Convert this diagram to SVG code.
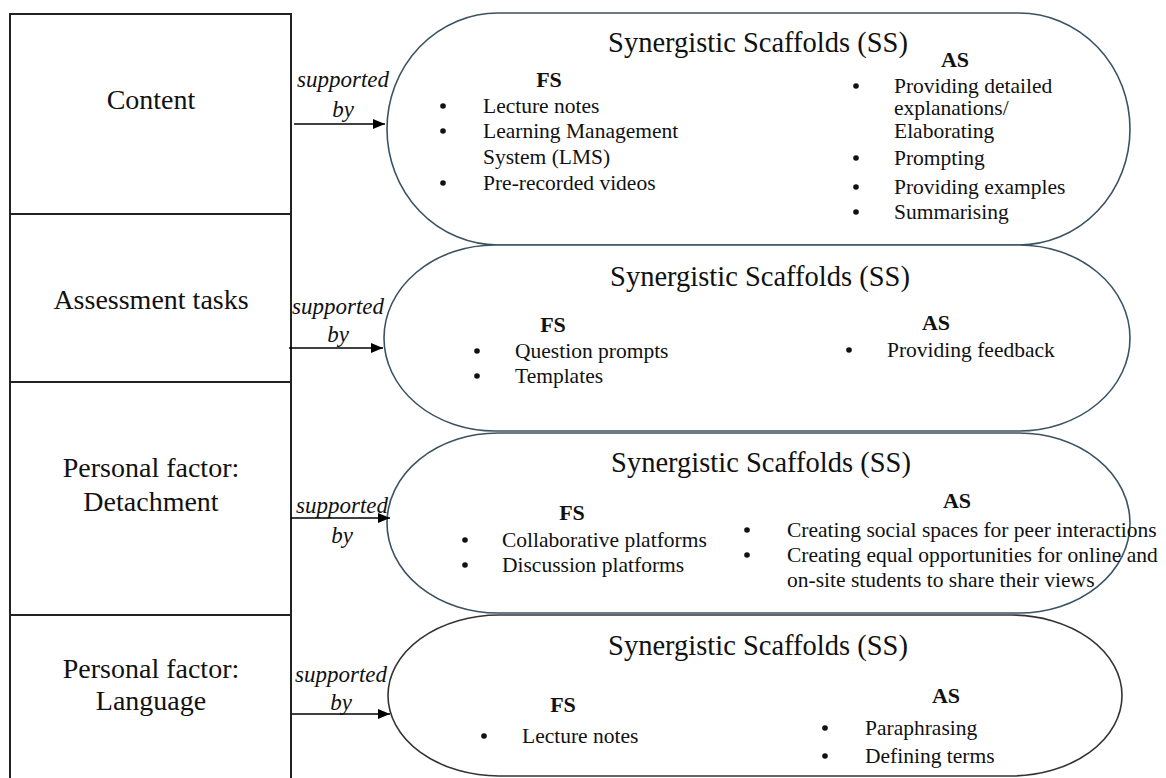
<svg xmlns="http://www.w3.org/2000/svg" width="1166" height="778" viewBox="0 0 1166 778">
<defs>
<marker id="arr" markerWidth="12" markerHeight="10" refX="12" refY="5" orient="auto" markerUnits="userSpaceOnUse">
<path d="M0,0 L12,5 L0,10 Z" fill="#000"/>
</marker>
<style>
.box{fill:#fff;stroke:#222;stroke-width:2}
.ss{fill:#fff;stroke:#3b5263;stroke-width:1.6}
.ss4{fill:#fff;stroke:#333;stroke-width:1.6}
.lbl{font-family:"Liberation Serif","Times New Roman",serif;font-size:28px;fill:#111;text-anchor:middle}
.ttl{font-family:"Liberation Serif","Times New Roman",serif;font-size:28.5px;fill:#111;text-anchor:middle}
.hd{font-family:"Liberation Serif","Times New Roman",serif;font-size:22px;font-weight:bold;fill:#111;text-anchor:middle}
.it{font-family:"Liberation Serif","Times New Roman",serif;font-size:21.5px;fill:#111}
.sup{font-family:"Liberation Serif","Times New Roman",serif;font-size:23px;font-style:italic;fill:#111;text-anchor:middle}
.dot{fill:#111}
.conn{stroke:#000;stroke-width:1.6;fill:none}
</style>
</defs>
<rect width="1166" height="778" fill="#fff"/>

<g id="left-content"><rect class="box" x="10" y="14" width="281" height="200"/><text class="lbl" x="151" y="109">Content</text></g>
<g id="left-assessment"><rect class="box" x="10" y="214" width="281" height="168"/><text class="lbl" x="151" y="309">Assessment tasks</text></g>
<g id="left-detachment"><rect class="box" x="10" y="382" width="281" height="233"/><text class="lbl" x="151" y="477">Personal factor:</text><text class="lbl" x="151" y="511">Detachment</text></g>
<g id="left-language"><rect class="box" x="10" y="615" width="281" height="180"/><text class="lbl" x="151" y="678">Personal factor:</text><text class="lbl" x="151" y="710">Language</text></g>

<g id="ss-content">
<rect class="ss" x="387" y="13" width="743" height="232" rx="111" ry="116"/>
<text class="ttl" x="758" y="52">Synergistic Scaffolds (SS)</text>
<text class="hd" x="549" y="87">FS</text>
<circle class="dot" cx="443" cy="106" r="2.8"/><text class="it" x="483" y="113">Lecture notes</text>
<circle class="dot" cx="443" cy="131" r="2.8"/><text class="it" x="483" y="138">Learning Management</text>
<text class="it" x="483" y="164">System (LMS)</text>
<circle class="dot" cx="443" cy="183" r="2.8"/><text class="it" x="483" y="190">Pre-recorded videos</text>
<text class="hd" x="955" y="67">AS</text>
<circle class="dot" cx="856" cy="86" r="2.8"/><text class="it" x="894" y="93">Providing detailed</text>
<text class="it" x="894" y="115">explanations/</text>
<text class="it" x="894" y="138">Elaborating</text>
<circle class="dot" cx="856" cy="158" r="2.8"/><text class="it" x="894" y="165">Prompting</text>
<circle class="dot" cx="856" cy="187" r="2.8"/><text class="it" x="894" y="194">Providing examples</text>
<circle class="dot" cx="856" cy="212" r="2.8"/><text class="it" x="894" y="219">Summarising</text>
</g>

<g id="ss-assessment">
<rect class="ss" x="384" y="245" width="746" height="186" rx="111" ry="93"/>
<text class="ttl" x="760" y="286">Synergistic Scaffolds (SS)</text>
<text class="hd" x="553" y="332">FS</text>
<circle class="dot" cx="477" cy="351" r="2.8"/><text class="it" x="515" y="358">Question prompts</text>
<circle class="dot" cx="477" cy="376" r="2.8"/><text class="it" x="515" y="383">Templates</text>
<text class="hd" x="936" y="330">AS</text>
<circle class="dot" cx="849" cy="350" r="2.8"/><text class="it" x="887" y="357">Providing feedback</text>
</g>

<g id="ss-detachment">
<rect class="ss" x="387" y="433" width="743" height="180" rx="111" ry="90"/>
<text class="ttl" x="761" y="472">Synergistic Scaffolds (SS)</text>
<text class="hd" x="572" y="520">FS</text>
<circle class="dot" cx="465" cy="540" r="2.8"/><text class="it" x="502" y="547">Collaborative platforms</text>
<circle class="dot" cx="465" cy="565" r="2.8"/><text class="it" x="502" y="572">Discussion platforms</text>
<text class="hd" x="957" y="508">AS</text>
<circle class="dot" cx="747" cy="530" r="2.8"/><text class="it" x="787" y="537">Creating social spaces for peer interactions</text>
<circle class="dot" cx="747" cy="555" r="2.8"/><text class="it" x="787" y="562">Creating equal opportunities for online and</text>
<text class="it" x="787" y="587">on-site students to share their views</text>
</g>

<g id="ss-language">
<rect class="ss4" x="388" y="615" width="734" height="161" rx="111" ry="80.5"/>
<text class="ttl" x="758" y="655">Synergistic Scaffolds (SS)</text>
<text class="hd" x="563" y="712">FS</text>
<circle class="dot" cx="484" cy="736" r="2.8"/><text class="it" x="522" y="743">Lecture notes</text>
<text class="hd" x="946" y="703">AS</text>
<circle class="dot" cx="825" cy="728" r="2.8"/><text class="it" x="865" y="735">Paraphrasing</text>
<circle class="dot" cx="825" cy="756" r="2.8"/><text class="it" x="865" y="763">Defining terms</text>
</g>

<g id="connectors">
<line class="conn" x1="294" y1="124" x2="385" y2="124" marker-end="url(#arr)"/>
<text class="sup" x="343" y="87">supported</text><text class="sup" x="343" y="117">by</text>
<line class="conn" x1="289" y1="348" x2="383" y2="348" marker-end="url(#arr)"/>
<text class="sup" x="338" y="314">supported</text><text class="sup" x="338" y="342">by</text>
<line class="conn" x1="291" y1="518" x2="390" y2="518" marker-end="url(#arr)"/>
<text class="sup" x="342" y="513">supported</text><text class="sup" x="342" y="543">by</text>
<line class="conn" x1="292" y1="714" x2="390" y2="714" marker-end="url(#arr)"/>
<text class="sup" x="341" y="682">supported</text><text class="sup" x="341" y="710">by</text>
</g>
</svg>
